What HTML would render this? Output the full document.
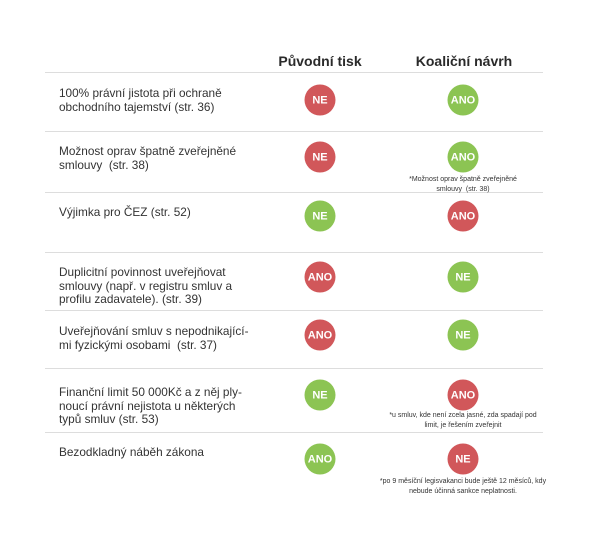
<!DOCTYPE html>
<html><head><meta charset="utf-8"><style>
body{margin:0;width:600px;height:540px;background:#fff;position:relative;font-family:"Liberation Sans","DejaVu Sans",sans-serif;color:#333;overflow:hidden}
.h{position:absolute;top:53px;font-weight:bold;font-size:14px;color:#2a2a2a;transform:translateX(-50%);white-space:nowrap}
.l{position:absolute;left:45px;width:498px;height:1px;background:#ddd}
.t{position:absolute;left:59px;font-size:11.8px;line-height:13.5px;color:#333;white-space:nowrap}
.c{position:absolute;width:31px;height:31px;border-radius:50%;color:#fff;font-weight:bold;font-size:11px;display:flex;align-items:center;justify-content:center;transform:translate(-50%,-50%)}
.r{background:#d1575a}.g{background:#8cc453}
.n{position:absolute;font-size:7px;line-height:10px;text-align:center;transform:translateX(-50%);white-space:nowrap;color:#333}
</style></head><body>
<div class="h" style="left:320px">Původní tisk</div>
<div class="h" style="left:464px">Koaliční návrh</div>
<div class="l" style="top:72px"></div>
<div class="l" style="top:131px"></div>
<div class="l" style="top:192px"></div>
<div class="l" style="top:252px"></div>
<div class="l" style="top:310px"></div>
<div class="l" style="top:368px"></div>
<div class="l" style="top:432px"></div>

<div class="t" style="top:87px">100% právní jistota při ochraně<br>obchodního tajemství (str. 36)</div>
<div class="c r" style="left:320px;top:100px">NE</div><div class="c g" style="left:463px;top:100px">ANO</div>

<div class="t" style="top:145px">Možnost oprav špatně zveřejněné<br>smlouvy &nbsp;(str. 38)</div>
<div class="c r" style="left:320px;top:157px">NE</div><div class="c g" style="left:463px;top:157px">ANO</div>
<div class="n" style="left:463px;top:175px">*Možnost oprav špatně zveřejněné<br>smlouvy &nbsp;(str. 38)</div>

<div class="t" style="top:206px">Výjimka pro ČEZ (str. 52)</div>
<div class="c g" style="left:320px;top:216px">NE</div><div class="c r" style="left:463px;top:216px">ANO</div>

<div class="t" style="top:266px">Duplicitní povinnost uveřejňovat<br>smlouvy (např. v registru smluv a<br>profilu zadavatele). (str. 39)</div>
<div class="c r" style="left:320px;top:277px">ANO</div><div class="c g" style="left:463px;top:277px">NE</div>

<div class="t" style="top:325px">Uveřejňování smluv s nepodnikající-<br>mi fyzickými osobami &nbsp;(str. 37)</div>
<div class="c r" style="left:320px;top:335px">ANO</div><div class="c g" style="left:463px;top:335px">NE</div>

<div class="t" style="top:386px">Finanční limit 50 000Kč a z něj ply-<br>noucí právní nejistota u některých<br>typů smluv (str. 53)</div>
<div class="c g" style="left:320px;top:395px">NE</div><div class="c r" style="left:463px;top:395px">ANO</div>
<div class="n" style="left:463px;top:411px">*u smluv, kde není zcela jasné, zda spadají pod<br>limit, je řešením zveřejnit</div>

<div class="t" style="top:446px">Bezodkladný náběh zákona</div>
<div class="c g" style="left:320px;top:459px">ANO</div><div class="c r" style="left:463px;top:459px">NE</div>
<div class="n" style="left:463px;top:477px">*po 9 měsíční legisvakanci bude ještě 12 měsíců, kdy<br>nebude účinná sankce neplatnosti.</div>
</body></html>
